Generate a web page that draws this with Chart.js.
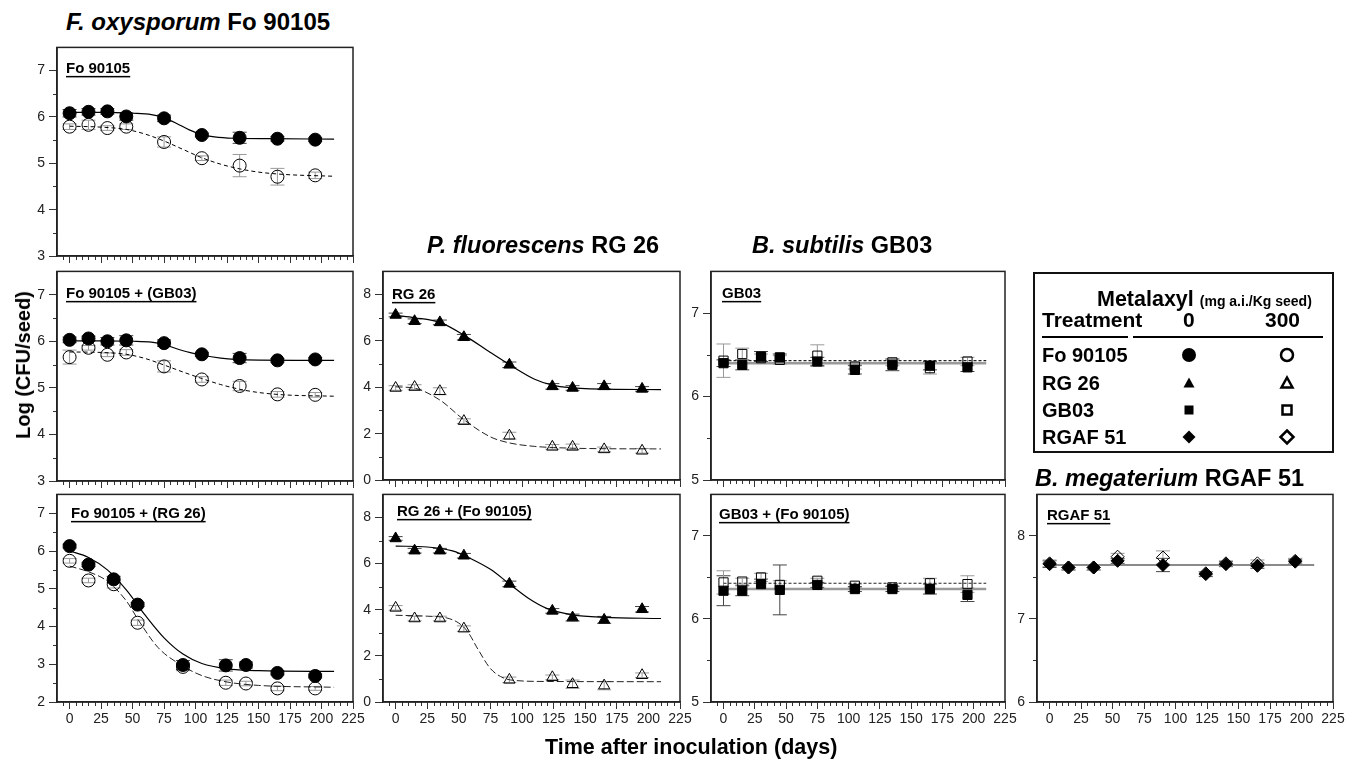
<!DOCTYPE html>
<html>
<head>
<meta charset="utf-8">
<script src="https://cdn.jsdelivr.net/npm/chart.js@4.4.1/dist/chart.umd.min.js"></script>
<style>
body{margin:0;background:#fff;width:1346px;height:759px;position:relative;overflow:hidden;font-family:"Liberation Sans",Arial,sans-serif;}
.t{position:absolute;white-space:nowrap;line-height:1;font-weight:bold;color:#000;}
canvas{position:absolute;}
</style>
</head>
<body>
<script>
// axis ticks
var xTicks = [0,25,50,75,100,125,150,175,200,225];
var daysA = [0,15,30,45,75,105,135,165,195];   // Fo 90105 / GB03 samplings
var daysB = [0,15,35,54,90,124,140,165,195];   // RG 26 / RGAF 51 samplings

// Fo 90105
var foFill = [6.08,6.11,6.12,6.01,5.97,5.61,5.55,5.53,5.51];
var foFillSe = [0.08,0.07,0.06,0.08,0.07,0.04,0.12,0.05,0.04];
var foOpen = [5.79,5.83,5.76,5.79,5.46,5.11,4.95,4.71,4.74];
var foOpenSe = [0.06,0.1,0.05,0.06,0.11,0.05,0.24,0.18,0.07];
var foFitX = [0,25,50,65,75,85,95,105,115,130,160,210];
var foFitFill = [6.1,6.1,6.08,6.05,5.98,5.86,5.72,5.62,5.57,5.54,5.53,5.52];
var foFitOpenX = [0,25,45,60,75,90,105,120,135,150,170,210];
var foFitOpen = [5.8,5.78,5.73,5.63,5.48,5.3,5.12,4.98,4.88,4.81,4.76,4.72];

// Fo 90105 + (GB03)
var foGbFill = [6.03,6.06,6.0,6.02,5.96,5.72,5.64,5.59,5.61];
var foGbFillSe = [0.06,0.05,0.08,0.1,0.07,0.04,0.1,0.04,0.04];
var foGbOpen = [5.66,5.86,5.71,5.76,5.46,5.18,5.04,4.86,4.85];
var foGbOpenSe = [0.15,0.05,0.04,0.06,0.12,0.06,0.1,0.06,0.05];
var foGbFitX = [0,25,50,65,75,85,95,105,120,140,210];
var foGbFitFill = [6.01,6.01,6.0,5.98,5.93,5.84,5.76,5.7,5.64,5.6,5.59];
var foGbFitOpenX = [0,25,45,60,75,90,105,120,135,150,170,210];
var foGbFitOpen = [5.77,5.76,5.72,5.63,5.49,5.34,5.2,5.07,4.97,4.9,4.85,4.82];

// Fo 90105 + (RG 26)
var foRgFill = [6.13,5.64,5.25,4.58,2.98,2.97,2.98,2.77,2.69];
var foRgFillSe = [0.05,0.05,0.08,0.05,0.12,0.15,0.08,0.05,0.05];
var foRgOpen = [5.74,5.22,5.12,4.1,2.93,2.51,2.49,2.36,2.36];
var foRgOpenSe = [0.06,0.06,0.1,0.07,0.1,0.07,0.06,0.06,0.05];
var foRgFitX = [0,15,30,45,60,75,90,105,125,150,210];
var foRgFitFill = [6.0,5.83,5.5,4.97,4.3,3.7,3.27,3.02,2.88,2.83,2.81];
var foRgFitOpenX = [0,15,30,45,55,70,90,105,125,150,210];
var foRgFitOpen = [5.6,5.45,5.2,4.68,4.15,3.45,2.95,2.7,2.53,2.44,2.39];

// RG 26
var rgFill = [7.12,6.85,6.8,6.16,4.97,4.04,3.97,4.04,3.93];
var rgFillSe = [0.08,0.1,0.1,0.12,0.12,0.12,0.1,0.12,0.1];
var rgOpen = [3.97,4.01,3.83,2.54,1.91,1.43,1.43,1.32,1.26];
var rgOpenSe = [0.1,0.1,0.15,0.1,0.15,0.1,0.12,0.1,0.1];
var rgFitX = [0,15,35,54,75,90,110,125,150,210];
var rgFitFill = [7.1,7.0,6.8,6.25,5.5,4.98,4.35,4.08,3.94,3.9];
var rgFitOpen = [4.02,3.96,3.45,2.6,1.86,1.6,1.45,1.4,1.36,1.34];

// RG 26 + (Fo 90105)
var rgFoFill = [7.09,6.56,6.56,6.34,5.12,3.95,3.66,3.56,4.02];
var rgFoFillSe = [0.08,0.1,0.1,0.1,0.12,0.1,0.15,0.15,0.12];
var rgFoOpen = [4.08,3.62,3.62,3.18,0.96,1.07,0.77,0.71,1.16];
var rgFoOpenSe = [0.1,0.1,0.1,0.12,0.12,0.1,0.18,0.18,0.1];
var rgFoFitX = [0,25,45,60,75,90,105,120,140,165,210];
var rgFoFitFill = [6.76,6.72,6.55,6.2,5.75,5.12,4.5,4.05,3.78,3.67,3.62];
var rgFoFitOpenX = [0,25,40,50,57,65,75,85,95,120,210];
var rgFoFitOpen = [3.76,3.72,3.65,3.42,3.05,2.3,1.45,1.05,0.93,0.89,0.88];

// GB03
var gbFill = [6.40,6.38,6.48,6.47,6.42,6.32,6.38,6.37,6.35];
var gbFillSe = [0.04,0.06,0.06,0.04,0.05,0.05,0.07,0.05,0.05];
var gbOpen = [6.43,6.51,6.46,6.44,6.49,6.36,6.41,6.34,6.42];
var gbOpenSe = [0.2,0.07,0.05,0.05,0.13,0.03,0.04,0.07,0.05];
var flatX = [0,210];
var gbFitFill = [6.40,6.40];
var gbFitOpen = [6.43,6.43];

// GB03 + (Fo 90105)
var gbFoFill = [6.34,6.34,6.42,6.35,6.41,6.36,6.36,6.36,6.29];
var gbFoFillSe = [0.18,0.06,0.06,0.3,0.03,0.03,0.03,0.06,0.08];
var gbFoOpen = [6.44,6.45,6.5,6.41,6.46,6.4,6.38,6.43,6.42];
var gbFoOpenSe = [0.14,0.04,0.05,0.05,0.03,0.02,0.02,0.06,0.1];
var gbFoFitFill = [6.36,6.36];
var gbFoFitOpen = [6.43,6.43];

// RGAF 51
var rgafFill = [7.66,7.62,7.62,7.7,7.65,7.54,7.66,7.64,7.69];
var rgafFillSe = [0.04,0.03,0.03,0.03,0.08,0.03,0.03,0.03,0.03];
var rgafOpen = [7.67,7.62,7.62,7.75,7.74,7.55,7.67,7.67,7.7];
var rgafOpenSe = [0.04,0.03,0.03,0.04,0.08,0.02,0.03,0.04,0.03];
var rgafFit = [7.65,7.65];

var PADL = 52, PADR = 22, PADT = 12, PADB = 36;
var FONT = '"Liberation Sans", Arial, sans-serif';

var lineFo = {solid:'#000', solidW:1.2, dash:'#000', dashW:1, pattern:[4,3]};
var lineRg = {solid:'#000', solidW:1.2, dash:'#222', dashW:1, pattern:[7,3]};
var lineGb = {solid:'#9a9a9a', solidW:2.5, dash:'#222', dashW:1.2, pattern:[3,2]};
var lineAf = {solid:'#8a8a8a', solidW:2, dash:'#111', dashW:1.2, pattern:[2,2]};

var panels = [
  {label:'Fo 90105', left:57, top:47, right:353, bottom:256, ymin:3, ymax:7.5, yTicks:[3,4,5,6,7], minor:0.5, xlab:false, lx:9, ly:26,
   shape:'circle', r:6.5, x:daysA, fill:foFill, fillSe:foFillSe, open:foOpen, openSe:foOpenSe,
   fx:foFitX, fitFill:foFitFill, ox:foFitOpenX, fitOpen:foFitOpen, line:lineFo},
  {label:'Fo 90105 + (GB03)', left:57, top:271, right:353, bottom:481, ymin:3, ymax:7.5, yTicks:[3,4,5,6,7], minor:0.5, xlab:false, lx:9, ly:27,
   shape:'circle', r:6.5, x:daysA, fill:foGbFill, fillSe:foGbFillSe, open:foGbOpen, openSe:foGbOpenSe,
   fx:foGbFitX, fitFill:foGbFitFill, ox:foGbFitOpenX, fitOpen:foGbFitOpen, line:lineFo},
  {label:'Fo 90105 + (RG 26)', left:57, top:494, right:353, bottom:702, ymin:2, ymax:7.5, yTicks:[2,3,4,5,6,7], minor:0.5, xlab:true, lx:14, ly:24,
   shape:'circle', r:6.5, x:daysB, fill:foRgFill, fillSe:foRgFillSe, open:foRgOpen, openSe:foRgOpenSe,
   fx:foRgFitX, fitFill:foRgFitFill, ox:foRgFitOpenX, fitOpen:foRgFitOpen, line:lineRg},
  {label:'RG 26', left:383, top:271, right:680, bottom:480, ymin:0, ymax:9, yTicks:[0,2,4,6,8], minor:1, xlab:false, lx:9, ly:28,
   shape:'triangle', r:6.5, x:daysB, fill:rgFill, fillSe:rgFillSe, open:rgOpen, openSe:rgOpenSe,
   fx:rgFitX, fitFill:rgFitFill, ox:rgFitX, fitOpen:rgFitOpen, line:lineRg},
  {label:'RG 26 + (Fo 90105)', left:383, top:494, right:680, bottom:702, ymin:0, ymax:9, yTicks:[0,2,4,6,8], minor:1, xlab:true, lx:14, ly:22,
   shape:'triangle', r:6.5, x:daysB, fill:rgFoFill, fillSe:rgFoFillSe, open:rgFoOpen, openSe:rgFoOpenSe,
   fx:rgFoFitX, fitFill:rgFoFitFill, ox:rgFoFitOpenX, fitOpen:rgFoFitOpen, line:lineRg},
  {label:'GB03', left:711, top:271, right:1005, bottom:480, ymin:5, ymax:7.5, yTicks:[5,6,7], minor:0.5, xlab:false, lx:11, ly:27,
   shape:'rect', r:6.5, x:daysA, fill:gbFill, fillSe:gbFillSe, open:gbOpen, openSe:gbOpenSe,
   fx:flatX, fitFill:gbFitFill, ox:flatX, fitOpen:gbFitOpen, line:lineGb},
  {label:'GB03 + (Fo 90105)', left:711, top:494, right:1005, bottom:702, ymin:5, ymax:7.5, yTicks:[5,6,7], minor:0.5, xlab:true, lx:8, ly:25,
   shape:'rect', r:6.5, x:daysA, fill:gbFoFill, fillSe:gbFoFillSe, open:gbFoOpen, openSe:gbFoOpenSe,
   fx:flatX, fitFill:gbFoFitFill, ox:flatX, fitOpen:gbFoFitOpen, line:lineGb},
  {label:'RGAF 51', left:1037, top:494, right:1333, bottom:702, ymin:6, ymax:8.5, yTicks:[6,7,8], minor:0.5, xlab:true, lx:10, ly:26,
   shape:'rectRot', r:6.5, x:daysB, fill:rgafFill, fillSe:rgafFillSe, open:rgafOpen, openSe:rgafOpenSe,
   fx:flatX, fitFill:rgafFit, ox:flatX, fitOpen:rgafFit, line:lineAf}
];

function pts(xs, ys){
  return xs.map(function(x, i){ return {x:x, y:ys[i]}; });
}

var panelPlugin = {
  id:'panelDeco',
  beforeDatasetsDraw: function(chart){
    var ctx = chart.ctx, ys = chart.scales.y;
    chart.data.datasets.forEach(function(ds, i){
      if(!ds.se) return;
      var meta = chart.getDatasetMeta(i);
      ctx.save();
      ctx.strokeStyle = ds.seColor; ctx.lineWidth = 1;
      meta.data.forEach(function(el, j){
        var v = ds.data[j].y, e = ds.se[j];
        var y1 = ys.getPixelForValue(v + e), y2 = ys.getPixelForValue(v - e);
        ctx.beginPath();
        ctx.moveTo(el.x, y1); ctx.lineTo(el.x, y2);
        ctx.moveTo(el.x - 7, y1); ctx.lineTo(el.x + 7, y1);
        ctx.moveTo(el.x - 7, y2); ctx.lineTo(el.x + 7, y2);
        ctx.stroke();
      });
      ctx.restore();
    });
  },
  afterDraw: function(chart){
    var ctx = chart.ctx, ca = chart.chartArea, p = chart.options.panel;
    var xs = chart.scales.x, ys = chart.scales.y;
    ctx.save();
    // minor ticks
    ctx.strokeStyle = '#333'; ctx.lineWidth = 1;
    ctx.beginPath();
    for(var d = -5; d < 225; d += 5){
      if(d % 25 === 0) continue;
      var px = Math.round(xs.getPixelForValue(d)) + 0.5;
      ctx.moveTo(px, ca.bottom); ctx.lineTo(px, ca.bottom + 4);
    }
    for(var v = p.ymin + p.minor; v < p.ymax; v += p.minor){
      if(p.yTicks.indexOf(Math.round(v*100)/100) >= 0) continue;
      var py = Math.round(ys.getPixelForValue(v)) + 0.5;
      ctx.moveTo(ca.left, py); ctx.lineTo(ca.left - 4, py);
    }
    ctx.stroke();
    // frame
    ctx.strokeStyle = '#222'; ctx.lineWidth = 1.5;
    ctx.strokeRect(ca.left, ca.top, ca.right - ca.left, ca.bottom - ca.top);
    // panel label, underlined
    ctx.font = 'bold 15px ' + FONT;
    ctx.fillStyle = '#000';
    ctx.textBaseline = 'alphabetic';
    var tx = ca.left + p.lx, ty = ca.top + p.ly;
    ctx.fillText(p.label, tx, ty);
    var w = ctx.measureText(p.label).width;
    ctx.fillRect(tx, ty + 2.5, w, 1.5);
    ctx.restore();
  }
};

function makePanel(p){
  var W = p.right - p.left + PADL + PADR, H = p.bottom - p.top + PADT + PADB;
  var cv = document.createElement('canvas');
  cv.width = W; cv.height = H;
  cv.style.width = W + 'px'; cv.style.height = H + 'px';
  cv.style.left = (p.left - PADL) + 'px'; cv.style.top = (p.top - PADT) + 'px';
  document.body.appendChild(cv);
  var L = p.line;
  new Chart(cv, {
    type:'line',
    data:{datasets:[
      {data:pts(p.x, p.fill), se:p.fillSe, seColor:'#444', showLine:false, pointStyle:p.shape, pointRadius:p.r,
       pointBackgroundColor:'#000', pointBorderColor:'#000', pointBorderWidth:1},
      {data:pts(p.x, p.open), se:p.openSe, seColor:'#999', showLine:false, pointStyle:p.shape, pointRadius:p.r,
       pointBackgroundColor:'rgba(0,0,0,0)', pointBorderColor:'#000', pointBorderWidth:1},
      {data:pts(p.fx, p.fitFill), pointRadius:0, borderColor:L.solid, borderWidth:L.solidW,
       cubicInterpolationMode:'monotone', fill:false},
      {data:pts(p.ox, p.fitOpen), pointRadius:0, borderColor:L.dash, borderWidth:L.dashW, borderDash:L.pattern,
       cubicInterpolationMode:'monotone', fill:false}
    ]},
    options:{
      panel:p,
      responsive:false, animation:false, devicePixelRatio:1,
      layout:{padding:{top:PADT, right:PADR, left:0, bottom:0}},
      plugins:{legend:{display:false}, tooltip:{enabled:false}},
      scales:{
        x:{type:'linear', min:-10, max:225,
           afterBuildTicks:function(s){ s.ticks = xTicks.map(function(v){ return {value:v}; }); },
           afterFit:function(s){ s.height = PADB; },
           ticks:{autoSkip:false, maxRotation:0, padding:2, color:'#222', font:{family:FONT, size:14},
                  callback:function(v){ return p.xlab ? String(v) : ''; }},
           grid:{drawOnChartArea:false, tickLength:7, color:'#333', lineWidth:1},
           border:{color:'#222', width:1.5}},
        y:{type:'linear', min:p.ymin, max:p.ymax,
           afterBuildTicks:function(s){ s.ticks = p.yTicks.map(function(v){ return {value:v}; }); },
           afterFit:function(s){ s.width = PADL; },
           ticks:{padding:4, color:'#222', font:{family:FONT, size:14},
                  callback:function(v){ return String(v); }},
           grid:{drawOnChartArea:false, tickLength:8, color:'#333', lineWidth:1},
           border:{color:'#222', width:1.5}}
      }
    },
    plugins:[panelPlugin]
  });
}

panels.forEach(makePanel);

// text helpers
function addText(html, x, baseline, size, extra){
  var d = document.createElement('div');
  d.className = 't';
  d.innerHTML = html;
  d.style.left = x + 'px';
  d.style.top = (baseline - 0.8465 * size) + 'px';
  d.style.fontSize = size + 'px';
  if(extra) d.style.cssText += extra;
  document.body.appendChild(d);
  return d;
}

addText('<i>F. oxysporum</i> Fo 90105', 66, 30, 24);
addText('<i>P. fluorescens</i> RG 26', 427, 254, 23.5);
addText('<i>B. subtilis</i> GB03', 752, 254, 23.5);
addText('<i>B. megaterium</i> RGAF 51', 1035, 487, 23.5);
addText('Time after inoculation (days)', 545, 755, 21.5);
var yl = addText('Log (CFU/seed)', 23, 365, 20);
yl.style.top = '365px';
yl.style.transform = 'translate(-50%,-50%) rotate(-90deg)';

// legend box
var box = document.createElement('div');
box.style.cssText = 'position:absolute;left:1033px;top:272px;width:301px;height:181px;border:2px solid #111;box-sizing:border-box;';
document.body.appendChild(box);
addText('Metalaxyl <span style="font-size:14px">(mg a.i./Kg seed)</span>', 1097, 307, 21.5);
addText('Treatment', 1042, 327, 21);
addText('0', 1183, 327, 21);
addText('300', 1265, 327, 21);
var rule1 = document.createElement('div');
rule1.style.cssText = 'position:absolute;left:1042px;top:336px;width:86px;height:2px;background:#000;';
document.body.appendChild(rule1);
var rule2 = document.createElement('div');
rule2.style.cssText = 'position:absolute;left:1133px;top:336px;width:190px;height:2px;background:#000;';
document.body.appendChild(rule2);

var legendRows = ['Fo 90105','RG 26','GB03','RGAF 51'];
var legendShapes = ['circle','triangle','rect','rectRot'];
var rowBase = [362, 390, 417, 444];
legendRows.forEach(function(t, i){ addText(t, 1042, rowBase[i], 20); });

var lc = document.createElement('canvas');
lc.width = 301; lc.height = 181;
lc.style.left = '1033px'; lc.style.top = '272px';
document.body.appendChild(lc);
var g = lc.getContext('2d');
function mark(shape, cx, cy, filled){
  g.beginPath();
  if(shape === 'circle'){ g.arc(cx, cy, filled ? 7 : 6, 0, Math.PI*2); }
  else if(shape === 'triangle'){ g.moveTo(cx, cy-5.5); g.lineTo(cx+5.5, cy+4.5); g.lineTo(cx-5.5, cy+4.5); g.closePath(); }
  else if(shape === 'rect'){ g.rect(cx-4.5, cy-4.5, 9, 9); }
  else { g.moveTo(cx, cy-6.5); g.lineTo(cx+6.5, cy); g.lineTo(cx, cy+6.5); g.lineTo(cx-6.5, cy); g.closePath(); }
  if(filled){ g.fillStyle = '#000'; g.fill(); }
  else { g.strokeStyle = '#000'; g.lineWidth = 2.5; g.stroke(); }
}
legendShapes.forEach(function(s, i){
  var cy = rowBase[i] - 7 - 272;
  mark(s, 1189 - 1033, cy, true);
  mark(s, 1287 - 1033, cy, false);
});
</script>
</body>
</html>
